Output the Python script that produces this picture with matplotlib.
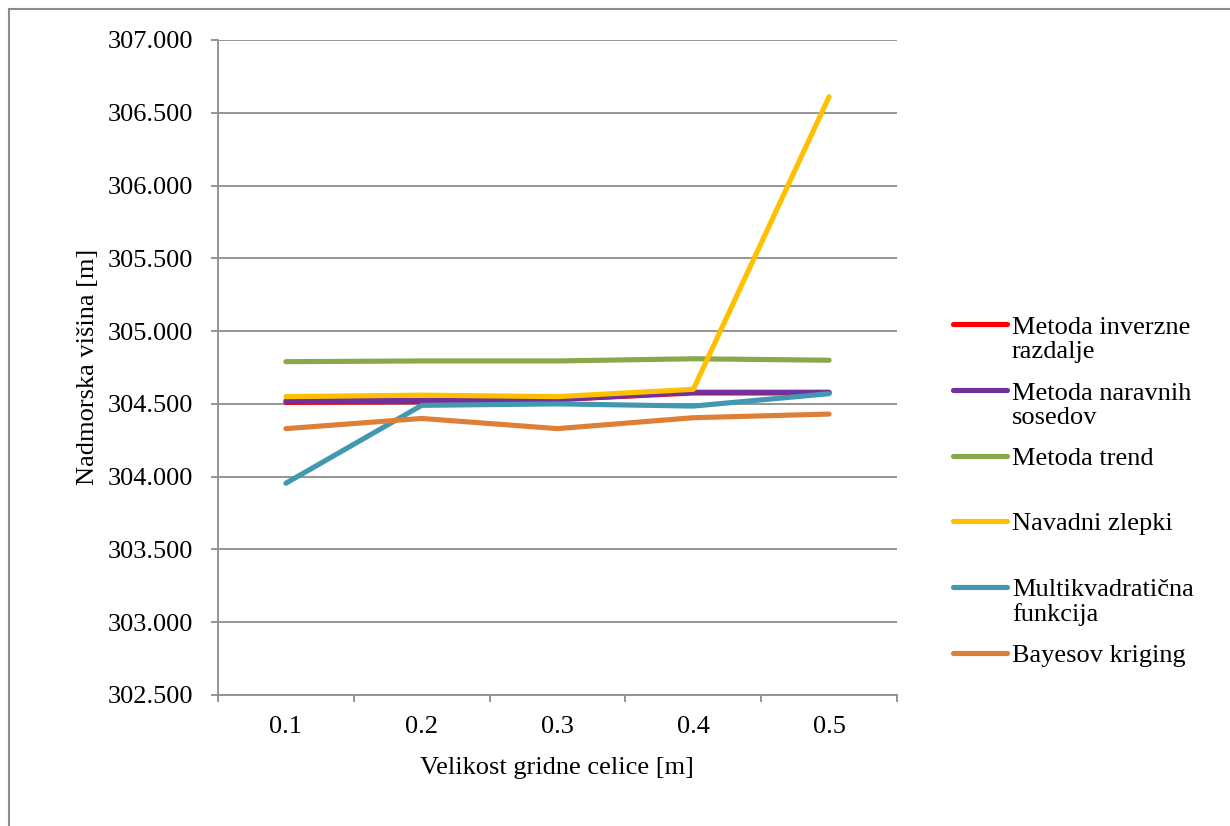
import matplotlib.pyplot as plt
import numpy as np
from matplotlib.lines import Line2D
from matplotlib.patches import Rectangle

cats = ["0.1", "0.2", "0.3", "0.4", "0.5"]
labels = ["Metoda inverzne\nrazdalje", "Metoda naravnih\nsosedov", "Metoda trend",
          "Navadni zlepki", "Multikvadratična\nfunkcija", "Bayesov kriging"]
idw = [304.51, 304.515, 304.53, 304.575, 304.575]
natural = [304.52, 304.525, 304.53, 304.58, 304.58]
trend = [304.79, 304.795, 304.795, 304.81, 304.80]
spline = [304.55, 304.56, 304.55, 304.60, 306.61]
multiquad = [303.955, 304.49, 304.50, 304.485, 304.57]
kriging = [304.33, 304.40, 304.33, 304.405, 304.43]
series = [idw, natural, trend, spline, multiquad, kriging]
colors = ["#FF0000", "#7030A0", "#89A74B", "#FFC000", "#4298B0", "#DE7F37"]

plt.rcParams['font.family'] = ['Liberation Serif', 'DejaVu Serif']
grey = "#8C8C8C"
fs = 19

fig = plt.figure(figsize=(12.3, 8.26), dpi=100)
ax = fig.add_axes([218 / 1230, 1 - 695 / 826, 679 / 1230, 655 / 826])

x = np.arange(len(cats))
for vals, c in zip(series, colors):
    ax.plot(x, vals, color=c, lw=3.7, solid_capstyle='round')

ax.set_xlim(-0.5, len(cats) - 0.5)
ax.set_ylim(302.5, 307.0)
yt = np.arange(302.5, 307.01, 0.5)
ax.set_yticks(yt)
ax.set_yticklabels(["{:.3f}".format(v) for v in yt])
ax.set_xticks(x)
ax.set_xticklabels(cats)
ax.set_xticks(np.arange(-0.5, len(cats)), minor=True)
ax.tick_params(axis='x', which='major', length=0, pad=15, labelsize=fs)
ax.tick_params(axis='x', which='minor', length=5, width=1.3, color=grey, direction='out')
ax.tick_params(axis='y', length=5, width=1.3, color=grey, pad=13, labelsize=fs)

for s in ['top', 'right']:
    ax.spines[s].set_visible(False)
for s in ['left', 'bottom']:
    ax.spines[s].set_color(grey)
    ax.spines[s].set_linewidth(1.3)
ax.grid(axis='y', color=grey, lw=1.3)
ax.set_axisbelow(True)

fig.text(88 / 1230, 1 - 367 / 826, "Nadmorska višina [m]", rotation=90,
         ha='center', va='center', fontsize=fs)
fig.text(557 / 1230, 1 - 768 / 826, "Velikost gridne celice [m]",
         ha='center', va='center', fontsize=fs)

# legend drawn by hand to keep Excel-like spacing (handle next to first line)
for i, (lab, c) in enumerate(zip(labels, colors)):
    yp = 1 - (324 + i * 65.8) / 826
    fig.add_artist(Line2D([953 / 1230, 1007 / 1230], [yp, yp], transform=fig.transFigure,
                          color=c, lw=3.7, solid_capstyle='round'))
    extra = lab.count("\n") * 25
    fig.text(1012 / 1230, yp - (9 + extra) / 826, lab, ha='left', va='baseline',
             fontsize=fs, linespacing=1.1)

fig.add_artist(Rectangle((9 / 1230, -0.1), 1.2, 1.1 - 9 / 826, transform=fig.transFigure,
                         fill=False, edgecolor=grey, lw=1.5))

fig.savefig("out.png", dpi=100)
